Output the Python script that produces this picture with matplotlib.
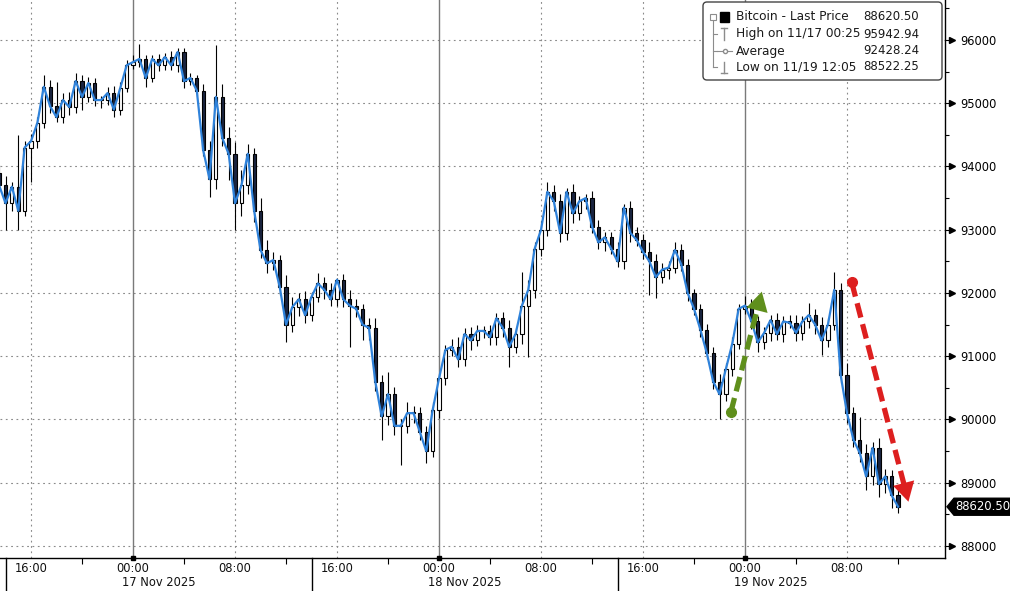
import datetime as dt
import numpy as np
import pandas as pd
import matplotlib
matplotlib.use("Agg")
import matplotlib.pyplot as plt
import matplotlib.dates as mdates
import matplotlib.transforms as mtransforms
from matplotlib.patches import Rectangle, FancyBboxPatch, Polygon
from matplotlib.collections import LineCollection
from matplotlib.lines import Line2D

plt.rcParams['font.family'] = ['DejaVu Sans']

# ---------------- data (30-minute bars) ----------------
BAR_START = "2025-11-16 13:30"
BAR_END = "2025-11-19 12:00"
first_open = 93900
closes = [
    93700, 93420, 93680, 93300, 94300, 94400, 94690, 95260, 94950, 94780,
    95050, 94940, 95350, 95100, 95320, 95050, 95050, 95160, 94900, 95240,
    95600, 95650, 95700, 95400, 95700, 95600, 95730, 95600, 95810, 95350,
    95400, 95200, 94260, 93800, 95100, 94450, 94200, 93420, 93700, 94200,
    93300, 92680, 92470, 92520, 92100, 91500, 91780, 91900, 91650, 91940,
    92150, 92050, 91900, 92210, 91900, 91800, 91750, 91500, 91450, 90600,
    90050, 90400, 89900, 89900, 90100, 90100, 89800, 89500, 90150, 90650,
    91100, 91150, 90950, 91350, 91250, 91400, 91400, 91300, 91600, 91450,
    91150, 91350, 91800, 92050, 92700, 93000, 93600, 93450, 92950, 93600,
    93260, 93450, 93500, 93050, 92800, 92880, 92700, 92500, 93350, 92950,
    92840, 92650, 92500, 92250, 92370, 92400, 92680, 92450, 92000, 91750,
    91420, 91050, 90600, 90400, 90800, 91200, 91750, 91800, 91550, 91220,
    91370, 91570, 91350, 91550, 91530, 91370, 91550, 91650, 91500, 91250,
    91500, 92050, 90700, 90100, 89680, 89470, 89100, 89550, 88980, 89100,
    88800, 88620.5,
]
up_wick = [
    120, 150, 80, 820, 100, 120, 90, 190, 110, 390,
    110, 130, 130, 90, 100, 80, 60, 90, 120, 100,
    80, 110, 243, 60, 70, 80, 60, 90, 70, 60,
    80, 50, 100, 150, 820, 200, 170, 180, 250, 150,
    100, 200, 150, 120, 80, 180, 150, 100, 130, 80,
    160, 100, 110, 30, 90, 150, 100, 80, 100, 150,
    100, 350, 120, 110, 180, 120, 100, 100, 120, 90,
    80, 120, 150, 90, 120, 90, 80, 100, 80, 100,
    130, 90, 530, 150, 100, 140, 150, 100, 120, 60,
    120, 80, 60, 120, 100, 80, 90, 110, 60, 100,
    90, 100, 150, 120, 100, 110, 120, 90, 80, 60,
    80, 90, 100, 120, 90, 100, 80, 150, 100, 80,
    100, 80, 120, 90, 100, 120, 80, 190, 100, 120,
    110, 280, 100, 200, 100, 360, 150, 90, 160, 120,
    100, 80,
]
dn_wick = [
    100, 420, 120, 300, 90, 550, 100, 80, 100, 80,
    90, 120, 90, 200, 80, 100, 120, 80, 110, 90,
    70, 60, 80, 140, 60, 90, 70, 80, 100, 110,
    60, 90, 100, 280, 150, 120, 410, 420, 200, 130,
    180, 120, 150, 100, 130, 270, 120, 150, 120, 100,
    90, 150, 100, 100, 120, 650, 130, 250, 200, 150,
    370, 130, 150, 620, 120, 150, 120, 190, 100, 130,
    110, 90, 120, 100, 150, 90, 110, 130, 120, 150,
    320, 100, 150, 820, 130, 120, 100, 150, 140, 120,
    150, 100, 120, 100, 110, 130, 80, 90, 120, 150,
    100, 120, 530, 330, 100, 150, 90, 110, 120, 100,
    110, 100, 120, 400, 100, 120, 90, 80, 120, 150,
    110, 130, 100, 120, 90, 130, 110, 100, 150, 230,
    100, 80, 120, 150, 110, 150, 220, 130, 200, 150,
    200, 98,
]

y_ticks = [88000, 89000, 90000, 91000, 92000, 93000, 94000, 95000, 96000]
y_minor = [88500, 89500, 90500, 91500, 92500, 93500, 94500, 95500, 96500]
x_label_times = ["2025-11-16 16:00", "2025-11-17 00:00", "2025-11-17 08:00",
                 "2025-11-17 16:00", "2025-11-18 00:00", "2025-11-18 08:00",
                 "2025-11-18 16:00", "2025-11-19 00:00", "2025-11-19 08:00"]
x_minor_times = ["2025-11-16 20:00", "2025-11-17 04:00", "2025-11-17 12:00",
                 "2025-11-17 20:00", "2025-11-18 04:00", "2025-11-18 12:00",
                 "2025-11-18 20:00", "2025-11-19 04:00", "2025-11-19 12:00"]
date_labels = ["17 Nov 2025", "18 Nov 2025", "19 Nov 2025"]
date_label_times = ["2025-11-17 02:00", "2025-11-18 02:00", "2025-11-19 02:00"]
day_separators = ["2025-11-16 14:00", "2025-11-17 14:00", "2025-11-18 14:00"]
x_range = ["2025-11-16 13:34", "2025-11-19 15:41"]
y_range = [87810, 96632]

legend_labels = ["Bitcoin - Last Price", "High on 11/17 00:25", "Average", "Low on 11/19 12:05"]
legend_values = ["88620.50", "95942.94", "92428.24", "88522.25"]
last_price = 88620.50

green_arrow = [("2025-11-18 22:53", 90114), ("2025-11-19 01:19", 92021)]
red_arrow = [("2025-11-19 08:22", 92169), ("2025-11-19 12:49", 88700)]

# ---------------- figure ----------------
W, H = 1010, 591
fig = plt.figure(figsize=(W / 100, H / 100), dpi=100)
ax = fig.add_axes([0, 1 - 558 / H, 945 / W, 558 / H])

def d(s):
    return mdates.date2num(pd.Timestamp(s).to_pydatetime())

times = mdates.date2num(pd.date_range(BAR_START, BAR_END, freq="30min").to_pydatetime())
closes_a = np.array(closes, dtype=float)
opens_a = np.concatenate([[first_open], closes_a[:-1]])
highs = np.maximum(opens_a, closes_a) + np.array(up_wick)
lows = np.minimum(opens_a, closes_a) - np.array(dn_wick)

# y axis on right (ticks first, limits after)
ax.yaxis.tick_right()
ax.set_yticks(y_ticks)
ax.set_yticks(y_minor, minor=True)
ax.set_yticklabels([str(v) for v in y_ticks], fontsize=8.3, color="#111111")
ax.tick_params(axis="y", which="major", length=4, width=0.8, pad=7, colors="black")
ax.tick_params(axis="y", which="minor", length=3, width=0.8, colors="black")

ax.set_xticks([d(s) for s in x_label_times])
ax.set_xticklabels([])
ax.tick_params(axis="x", which="major", length=0)
ax.set_xticks([d(s) for s in x_minor_times], minor=True)
ax.tick_params(axis="x", which="minor", length=4, width=0.8, colors="black")

ax.set_xlim(d(x_range[0]), d(x_range[1]))
ax.set_ylim(*y_range)
ax.set_autoscale_on(False)

# grid
grid_kw = dict(color="#8a8a8a", lw=0.8, linestyle=(0, (1.6, 3.2)), zorder=0)
for yv in y_ticks:
    ax.axhline(yv, **grid_kw)
for s in x_label_times:
    if s.endswith("00:00"):
        ax.axvline(d(s), color="#7a7a7a", lw=1.0, zorder=0)
    else:
        ax.axvline(d(s), **grid_kw)

# candles
bw = 0.5 * (30 / 1440)
segs = [[(t, lo), (t, hi)] for t, lo, hi in zip(times, lows, highs)]
ax.add_collection(LineCollection(segs, colors="black", linewidths=0.8, zorder=2))
for t, o, c in zip(times, opens_a, closes_a):
    lo, hi = min(o, c), max(o, c)
    h = max(hi - lo, 15)
    up = c >= o
    ax.add_patch(Rectangle((t - bw / 2, lo), bw, h,
                           facecolor="white" if up else "#1a2440",
                           edgecolor="black", lw=0.8, zorder=3))
ax.plot(times, closes_a, color="#2f82da", lw=1.6, zorder=4, solid_joinstyle="round")

# spines
for sp in ["left", "top"]:
    ax.spines[sp].set_visible(False)
for sp in ["right", "bottom"]:
    ax.spines[sp].set_color("black")
    ax.spines[sp].set_linewidth(1.0)

tri_tr = mtransforms.blended_transform_factory(ax.transAxes, ax.transData) + \
    mtransforms.ScaledTranslation(6.5 / 100, 0, fig.dpi_scale_trans)
ax.plot([1] * len(y_ticks), y_ticks, ls="none", marker=">", ms=4.2, color="black",
        transform=tri_tr, clip_on=False, zorder=6)

# x axis labels
xtr = ax.get_xaxis_transform()
for s in x_label_times:
    ax.text(d(s), -10 / 558, pd.Timestamp(s).strftime("%H:%M"), transform=xtr,
            ha="center", va="center", fontsize=8.3, color="#111111")
    if s.endswith("00:00"):
        ax.plot([d(s)], [0], marker="s", ms=2.6, color="black", transform=xtr, clip_on=False)
for lab, s in zip(date_labels, date_label_times):
    ax.text(d(s), -25 / 558, lab, transform=xtr, ha="center", va="center",
            fontsize=8.3, color="#111111")
for s in day_separators:
    ax.plot([d(s), d(s)], [0, -40 / 558], color="black", lw=1.0, transform=xtr, clip_on=False)

# arrows
def draw_arrow(pts, color):
    (s0, p0), (s1, p1) = pts
    a = ax.transData.transform((d(s0), p0))
    b = ax.transData.transform((d(s1), p1))
    v = (b - a) / np.hypot(*(b - a))
    hl = 15
    pre = b - v * hl
    pre_d = ax.transData.inverted().transform(pre)
    ax.plot([d(s0), pre_d[0]], [p0, pre_d[1]], color=color, lw=3.8,
            linestyle=(0, (2.8, 1.3)), solid_capstyle="butt", zorder=7)
    ax.plot([d(s0)], [p0], marker="o", ms=7, color=color, zorder=8)
    ax.annotate("", xy=(d(s1), p1), xytext=(pre_d[0], pre_d[1]),
                arrowprops=dict(arrowstyle="-|>,head_length=0.6,head_width=0.34",
                                color=color, lw=0.01, mutation_scale=23,
                                shrinkA=0, shrinkB=0), zorder=8)

draw_arrow(green_arrow, "#5f8f1c")
draw_arrow(red_arrow, "#dd1f1f")

# last price tag
yd = ax.transData.transform((0, last_price))[1]
ID = mtransforms.IdentityTransform()
tag = Polygon([(947, yd), (954, yd + 8.5), (1010, yd + 8.5), (1010, yd - 8.5), (954, yd - 8.5)],
              closed=True, facecolor="black", edgecolor="black", transform=ID)
fig.add_artist(tag)
fig.text(955.5 / W, yd / H, f"{last_price:.2f}", color="white", fontsize=8.4,
         ha="left", va="center")

# legend box
def fx(px):
    return px / W

def fy(py):
    return 1 - py / H

box = FancyBboxPatch((703, H - 80), 239, 78, boxstyle="round,pad=0,rounding_size=4",
                     facecolor="white", edgecolor="#444444", lw=1.0,
                     transform=ID, zorder=10)
fig.add_artist(box)
rows = [17, 34, 51, 67]
gray = "#8c8c8c"

def pline(xs, ys, **kw):
    fig.add_artist(Line2D(xs, [H - y for y in ys], transform=ID, zorder=11, **kw))

pline([713, 713], [21, 67], color=gray, lw=0.8)
for r in rows[1:]:
    pline([713, 717], [r, r], color=gray, lw=0.8)
fig.add_artist(Rectangle((710, H - 20), 6, 6, facecolor="white", edgecolor=gray, lw=0.8,
                         transform=ID, zorder=12))
pline([711.5, 714.5], [17, 17], color=gray, lw=0.8)
fig.add_artist(Rectangle((720, H - 22), 9, 10, facecolor="black", edgecolor="black",
                         transform=ID, zorder=12))
pline([721, 727], [28, 28], color=gray, lw=1.0)
pline([724, 724], [28, 40], color=gray, lw=1.0)
pline([717, 732], [51, 51], color=gray, lw=0.8)
fig.add_artist(Line2D([724.5], [H - 51], marker="o", ms=3, mfc="white", mec=gray,
                      transform=ID, zorder=12))
pline([724, 724], [62, 73], color=gray, lw=1.0)
pline([721, 727], [73, 73], color=gray, lw=1.0)

for r, lab, val in zip(rows, legend_labels, legend_values):
    fig.text(fx(736), fy(r), lab, fontsize=8.7, color="#1a1a1a", ha="left", va="center", zorder=12)
    fig.text(fx(919), fy(r), val, fontsize=8.5, color="#1a1a1a", ha="right", va="center", zorder=12)

fig.savefig("out.png", dpi=100)
